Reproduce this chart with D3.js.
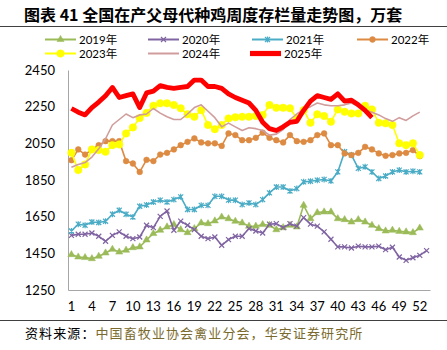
<!DOCTYPE html>
<html>
<head>
<meta charset="utf-8">
<script src="https://cdn.jsdelivr.net/npm/d3@7"></script>
<style>
  body { margin: 0; background: #fff; }
  svg text { font-family: Lato, "Noto Sans CJK SC", sans-serif; }
</style>
</head>
<body>
<div id="chart"></div>
<script>
var W = 447, H = 350;
var margin = { top: 70, right: 17, bottom: 60, left: 68 };

// weeks 1..53 (2020 has 53 weeks)
var weeks = d3.range(1, 54);
var xTickLabels = [1, 4, 7, 10, 13, 16, 19, 22, 25, 28, 31, 34, 37, 40, 43, 46, 49, 52];
var yTickLabels = [1250, 1450, 1650, 1850, 2050, 2250, 2450];

var years = ["2019年", "2020年", "2021年", "2022年", "2023年", "2024年", "2025年"];

var s2019 = [1443, 1430, 1427, 1421, 1434, 1452, 1472, 1457, 1467, 1481, 1485, 1523, 1558, 1576, 1594, 1607, 1579, 1563, 1585, 1616,
  1612, 1627, 1648, 1639, 1625, 1616, 1598, 1598, 1607, 1603, 1579, 1590, 1603, 1594, 1712, 1639, 1672, 1676, 1676, 1639,
  1634, 1621, 1634, 1621, 1603, 1585, 1572, 1576, 1570, 1567, 1563, 1588];
var s2020 = [1548, 1554, 1554, 1561, 1543, 1516, 1548, 1567, 1543, 1530, 1539, 1603, 1590, 1652, 1681, 1576, 1626, 1603, 1579, 1543,
  1530, 1539, 1494, 1525, 1543, 1543, 1585, 1572, 1561, 1609, 1612, 1590, 1612, 1598, 1645, 1609, 1598, 1567, 1527, 1485,
  1485, 1479, 1489, 1485, 1485, 1489, 1470, 1483, 1430, 1412, 1426, 1439, 1465];
var s2021 = [1572, 1609, 1603, 1621, 1618, 1625, 1663, 1685, 1663, 1648, 1707, 1714, 1730, 1740, 1730, 1743, 1758, 1689, 1689, 1712,
  1712, 1761, 1761, 1740, 1740, 1716, 1725, 1716, 1743, 1780, 1812, 1812, 1790, 1803, 1840, 1843, 1849, 1853, 1845, 1894,
  2004, 1986, 1913, 1922, 1894, 1858, 1872, 1894, 1904, 1894, 1898, 1894];
var s2022 = [1958, 2017, 1989, 2017, 2040, 2062, 2062, 2062, 1953, 1940, 1894, 1960, 1953, 1989, 1998, 2017, 2040, 2058, 2077, 2055,
  2050, 2050, 2036, 2104, 2095, 2067, 2067, 2080, 2108, 2080, 2067, 2055, 2095, 2062, 2058, 2067, 2095, 2104, 2040, 2040,
  1995, 1986, 1998, 2031, 2017, 1995, 1982, 1986, 1995, 1998, 2013, 1980];
var s2023 = [1998, 1904, 1935, 2017, 2013, 2004, 2040, 2044, 2104, 2137, 2188, 2216, 2255, 2268, 2268, 2259, 2241, 2208, 2195, 2231,
  2150, 2127, 2150, 2186, 2192, 2195, 2195, 2199, 2204, 2259, 2244, 2244, 2241, 2186, 2231, 2162, 2208, 2199, 2168, 2235,
  2222, 2213, 2213, 2255, 2235, 2162, 2159, 2150, 2050, 2040, 2050, 1986];
var s2024 = [1920, 1935, 1945, 1975, 2020, 2075, 2150, 2180, 2210, 2190, 2205, 2210, 2240, 2215, 2195, 2180, 2180, 2210, 2245, 2260,
  2225, 2190, 2140, 2160, 2140, 2120, 2135, 2130, 2120, 2095, 2100, 2125, 2180, 2210, 2235, 2250, 2270, 2260, 2255, 2255,
  2260, 2270, 2250, 2230, 2220, 2205, 2185, 2170, 2190, 2175, 2200, 2220];
var s2025 = [2240, 2220, 2205, 2245, 2275, 2310, 2355, 2300, 2310, 2320, 2245, 2325, 2335, 2365, 2355, 2350, 2355, 2360, 2395, 2395,
  2360, 2360, 2350, 2320, 2300, 2285, 2270, 2230, 2165, 2130, 2120, 2140, 2165, 2170, 2230, 2280, 2310, 2300, 2290, 2320,
  2280, 2285, 2260, 2230, 2190];

var colors = ["#9bbb59", "#8064a2", "#4bacc6", "#dd8a42", "#ffff00", "#d09c9c", "#ff0000"];
var widths = [1.6, 1.6, 1.6, 1.6, 1.6, 1.6, 4.8];
var markers = ["triangle", "x", "star", "circle", "bigcircle", "none", "none"];
var series = [s2019, s2020, s2021, s2022, s2023, s2024, s2025];

var svg = d3.select("#chart").append("svg")
  .attr("width", W)
  .attr("height", H);

// title
svg.append("text")
  .attr("x", 24)
  .attr("y", 21)
  .attr("font-size", "16px")
  .attr("font-weight", "bold")
  .attr("fill", "#000")
  .style("font-family", "'Noto Sans CJK SC', sans-serif")
  .text("图表 41  全国在产父母代种鸡周度存栏量走势图，万套");

svg.append("line")
  .attr("x1", 0).attr("x2", W)
  .attr("y1", 26.5).attr("y2", 26.5)
  .attr("stroke", "#404040").attr("stroke-width", 1);

var x = d3.scaleBand()
  .domain(weeks)
  .range([margin.left, W - margin.right]);
var xc = function(w) { return x(w) + x.bandwidth() / 2; };

var y = d3.scaleLinear()
  .domain([1250, 2450])
  .range([H - margin.bottom, margin.top]);

// axes
var gy = svg.append("g")
  .attr("transform", "translate(" + margin.left + ",0)")
  .call(d3.axisLeft(y).tickValues(yTickLabels).tickFormat(d3.format("d")).tickSize(0).tickPadding(13));
gy.select(".domain").attr("stroke", "#a6a6a6");
gy.selectAll("text").attr("font-size", "13px").attr("fill", "#000");

var gx = svg.append("g")
  .attr("transform", "translate(0," + (H - margin.bottom) + ")")
  .call(d3.axisBottom(x).tickValues(xTickLabels).tickSize(0).tickPadding(12));
gx.select(".domain").attr("stroke", "#a6a6a6");
gx.selectAll("text").attr("font-size", "13px").attr("fill", "#000");

function markerPath(type) {
  if (type === "triangle") return d3.symbol(d3.symbolTriangle, 22)();
  if (type === "x") return "M-2.5,-2.5L2.5,2.5M-2.5,2.5L2.5,-2.5";
  if (type === "star") return "M-2.5,-2.5L2.5,2.5M-2.5,2.5L2.5,-2.5M0,-3L0,3";
  if (type === "circle") return d3.symbol(d3.symbolCircle, 26)();
  if (type === "bigcircle") return d3.symbol(d3.symbolCircle, 44)();
  return null;
}

function drawMarker(g, type, color) {
  var p = markerPath(type);
  if (!p) return;
  var isStroke = (type === "x" || type === "star");
  g.append("path")
    .attr("d", p)
    .attr("fill", isStroke ? "none" : color)
    .attr("stroke", color)
    .attr("stroke-width", isStroke ? 1.2 : 0.5);
}

var line = d3.line()
  .x(function(d, i) { return xc(weeks[i]); })
  .y(function(d) { return y(d); });

series.forEach(function(s, k) {
  var g = svg.append("g");
  g.append("path")
    .datum(s)
    .attr("fill", "none")
    .attr("stroke", colors[k])
    .attr("stroke-width", widths[k])
    .attr("stroke-linejoin", "round")
    .attr("d", line);
  s.forEach(function(v, i) {
    var m = g.append("g").attr("transform", "translate(" + xc(weeks[i]) + "," + y(v) + ")");
    drawMarker(m, markers[k], colors[k]);
  });
});

// legend
var legPos = [[45, 39.5], [148, 39.5], [252, 39.5], [357, 39.5], [45, 53.5], [148, 53.5], [250, 53.5]];
years.forEach(function(name, k) {
  var g = svg.append("g").attr("transform", "translate(" + legPos[k][0] + "," + legPos[k][1] + ")");
  g.append("line")
    .attr("x1", 0).attr("x2", 31)
    .attr("stroke", colors[k])
    .attr("stroke-width", widths[k] + 0.4);
  var m = g.append("g").attr("transform", "translate(15.5,0)");
  drawMarker(m, markers[k], colors[k]);
  g.append("text")
    .attr("x", 34)
    .attr("dy", "0.35em")
    .attr("font-size", "11.5px")
    .attr("fill", "#000")
    .text(name);
});

// source
svg.append("line")
  .attr("x1", 0).attr("x2", W)
  .attr("y1", 320.5).attr("y2", 320.5)
  .attr("stroke", "#404040").attr("stroke-width", 1);

var src = svg.append("text")
  .attr("x", 25)
  .attr("y", 338)
  .attr("font-size", "13px")
  .attr("letter-spacing", "1.1px")
  .style("font-family", "'Noto Sans CJK SC', sans-serif");
src.append("tspan").attr("fill", "#000").text("资料来源：");
src.append("tspan").attr("fill", "#7a6a2e").text("中国畜牧业协会禽业分会，华安证券研究所");
</script>
</body>
</html>
